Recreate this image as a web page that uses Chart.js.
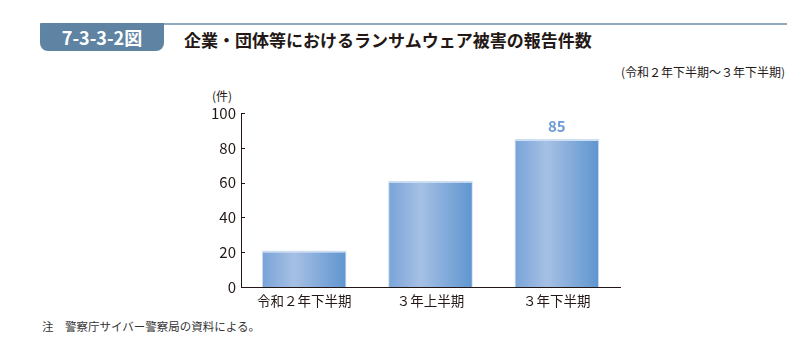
<!DOCTYPE html>
<html>
<head>
<meta charset="utf-8">
<script src="https://cdn.jsdelivr.net/npm/chart.js@4/dist/chart.umd.min.js"></script>
<style>
  body { margin:0; width:805px; height:352px; background:#fff; position:relative; overflow:hidden;
         font-family:"Noto Sans CJK JP", "Noto Sans", sans-serif; color:#231815; }
  #topline { position:absolute; left:40px; top:23px; width:747px; height:2px; background:#93aabe; }
  #tab { position:absolute; left:40px; top:23px; width:124px; height:28px; background:#5f84a3;
         border-radius:2px 0 8px 8px; color:#fff; font-weight:bold; font-size:18px; line-height:28px;
         text-align:center; }
  #title { position:absolute; left:184px; top:28px; font-size:17px; font-weight:bold; line-height:24px; }
  #period { position:absolute; right:20px; top:63px; font-size:12px; }
  #unit { position:absolute; left:212px; top:87px; font-size:12px; }
  #note { position:absolute; left:42px; top:318px; font-size:11.5px; color:#333; }
  #wrap { position:absolute; left:0; top:0; width:805px; height:352px; }
</style>
</head>
<body>
<div id="topline"></div>
<div id="tab">7-3-3-2図</div>
<div id="title">企業・団体等におけるランサムウェア被害の報告件数</div>
<div id="period">(令和２年下半期～３年下半期)</div>
<div id="unit">(件)</div>
<div id="note">注　警察庁サイバー警察局の資料による。</div>
<div id="wrap"><canvas id="myChart" width="805" height="352"></canvas></div>
<script>
// data
const categories = ['令和２年下半期', '３年上半期', '３年下半期']
const counts = [21, 61, 85]
const yTicks = [0, 20, 40, 60, 80, 100]
const labelledBars = [2]   // only the last bar carries its value

const BAR_FRACTION = 0.67
const ctx = document.getElementById('myChart').getContext('2d')

// horizontal gradient across each bar, worked out from the x scale
const barFill = (context) => {
    const chart = context.chart
    const x = chart.scales.x
    if (!x || !chart.chartArea) return '#7aa5d9'
    const cx = x.getPixelForValue(context.dataIndex)
    const half = (x.width / categories.length) * BAR_FRACTION / 2
    const g = chart.ctx.createLinearGradient(cx - half, 0, cx + half, 0)
    g.addColorStop(0, '#78a3d8')
    g.addColorStop(0.38, '#a6c0e4')
    g.addColorStop(1, '#5e95d0')
    return g
}

// value above bar + short inward y ticks
const extras = {
    id: 'extras',
    afterDatasetsDraw(chart) {
        const c = chart.ctx
        c.save()
        c.fillStyle = '#6a9bd4'
        c.font = 'bold 15px "Noto Sans CJK JP"'
        c.textAlign = 'center'
        c.textBaseline = 'bottom'
        labelledBars.forEach(i => {
            const bar = chart.getDatasetMeta(0).data[i]
            c.fillText(counts[i], bar.x, bar.y - 5)
        })
        const y = chart.scales.y
        c.strokeStyle = '#231815'
        c.lineWidth = 1
        yTicks.forEach(v => {
            const py = Math.round(y.getPixelForValue(v)) + 0.5
            c.beginPath()
            c.moveTo(y.right, py)
            c.lineTo(y.right + 4, py)
            c.stroke()
        })
        c.restore()
    }
}

let myChart = new Chart(ctx, {
    type: 'bar',
    data: {
        labels: categories,
        datasets: [{
            data: counts,
            backgroundColor: barFill,
            borderColor: '#cfdff2',
            borderWidth: {top: 2, left: 1, right: 1, bottom: 0},
            borderSkipped: 'bottom',
            categoryPercentage: BAR_FRACTION,
            barPercentage: 1
        }]
    },
    options: {
        responsive: false,
        animation: false,
        layout: {padding: {left: 0, top: 113, right: 185, bottom: 0}},
        plugins: {legend: {display: false}, tooltip: {enabled: false}},
        scales: {
            x: {
                grid: {display: false},
                border: {color: '#231815', width: 1},
                ticks: {color: '#231815', font: {family: '"Noto Sans CJK JP"', size: 13.5}, padding: -2},
                afterFit: s => { s.height = 65 }
            },
            y: {
                min: 0, max: 100,
                afterBuildTicks: s => { s.ticks = yTicks.map(v => ({value: v})) },
                grid: {display: false, drawTicks: false},
                border: {color: '#231815', width: 1},
                ticks: {color: '#231815', font: {family: '"Noto Sans CJK JP"', size: 15}, padding: 5},
                afterFit: s => { s.width = 241 }
            }
        }
    },
    plugins: [extras]
})
</script>
</body>
</html>
